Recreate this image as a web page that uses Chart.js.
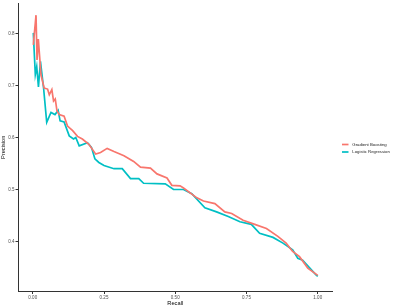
<!DOCTYPE html>
<html><head><meta charset="utf-8">
<script src="https://cdn.jsdelivr.net/npm/chart.js@4"></script>
<style>html,body{margin:0;padding:0;background:#fff;}#wrap{width:399px;height:308px;position:relative;}</style>
</head><body><div id="wrap"><canvas id="c" width="399" height="308"></canvas></div>
<script>
const seriesNames = ["Gradient Boosting", "Logistic Regression"];
const gbRecall = [0.002,0.0115,0.015,0.0195,0.029,0.040,0.052,0.058,0.067,0.073,0.079,0.085,0.093,0.110,0.122,0.140,0.157,0.174,0.197,0.221,0.238,0.261,0.285,0.320,0.354,0.378,0.413,0.436,0.471,0.488,0.517,0.529,0.576,0.599,0.639,0.674,0.698,0.738,0.779,0.820,0.860,0.889,0.912,0.936,0.965,1.000];
const gbPrecision = [0.778,0.835,0.749,0.789,0.720,0.695,0.693,0.682,0.692,0.670,0.674,0.651,0.644,0.641,0.622,0.613,0.602,0.597,0.587,0.568,0.571,0.579,0.573,0.565,0.554,0.543,0.541,0.530,0.522,0.508,0.507,0.503,0.484,0.478,0.473,0.457,0.454,0.441,0.433,0.425,0.410,0.397,0.381,0.371,0.349,0.335];
const lrRecall = [0.002,0.009,0.014,0.020,0.027,0.038,0.049,0.064,0.078,0.089,0.096,0.110,0.128,0.143,0.151,0.163,0.192,0.206,0.218,0.232,0.250,0.285,0.314,0.343,0.372,0.389,0.465,0.494,0.529,0.558,0.604,0.645,0.686,0.727,0.767,0.796,0.843,0.878,0.912,0.930,0.947,0.977,0.994,1.000];
const lrPrecision = [0.801,0.721,0.736,0.697,0.746,0.695,0.629,0.648,0.644,0.652,0.632,0.630,0.603,0.597,0.600,0.584,0.590,0.581,0.559,0.552,0.546,0.540,0.540,0.521,0.521,0.512,0.511,0.500,0.500,0.492,0.465,0.457,0.448,0.438,0.433,0.416,0.408,0.397,0.384,0.368,0.364,0.346,0.336,0.333];
const xTicks = [0, 0.25, 0.5, 0.75, 1.0];
const xTickLabels = ["0.00", "0.25", "0.50", "0.75", "1.00"];
const yTicks = [0.4, 0.5, 0.6, 0.7, 0.8];
const yTickLabels = ["0.4", "0.5", "0.6", "0.7", "0.8"];
const colors = ["#F8766D", "#00BFC4"];

const toPts = (xs, ys) => xs.map((x, i) => ({x: x, y: ys[i]}));
const FONT = "'Liberation Sans', Arial, sans-serif";

const legendPlugin = {
  id: 'ggLegend',
  afterDraw(chart) {
    const ctx = chart.ctx;
    ctx.save();
    chart.data.datasets.forEach((ds, i) => {
      const y = 144.5 + i * 7.5;
      ctx.strokeStyle = ds.borderColor;
      ctx.lineWidth = 1.7;
      ctx.beginPath(); ctx.moveTo(342, y); ctx.lineTo(348.5, y); ctx.stroke();
      ctx.fillStyle = '#1a1a1a';
      ctx.font = "4.3px " + FONT;
      ctx.textBaseline = 'middle';
      ctx.fillText(ds.label, 352.3, y);
    });
    ctx.restore();
  }
};

new Chart(document.getElementById('c'), {
  type: 'line',
  data: {
    datasets: [
      {label: seriesNames[0], data: toPts(gbRecall, gbPrecision), borderColor: colors[0], backgroundColor: colors[0], borderWidth: 1.7, pointRadius: 0, tension: 0, fill: false},
      {label: seriesNames[1], data: toPts(lrRecall, lrPrecision), borderColor: colors[1], backgroundColor: colors[1], borderWidth: 1.7, pointRadius: 0, tension: 0, fill: false}
    ]
  },
  options: {
    responsive: false, animation: false, devicePixelRatio: 1,
    layout: {padding: {left: 0, right: 67, top: 3, bottom: 0}},
    plugins: {legend: {display: false}, tooltip: {enabled: false}},
    scales: {
      x: {
        type: 'linear', min: -0.05, max: 1.05,
        afterBuildTicks: s => { s.ticks = xTicks.map(v => ({value: v})); },
        afterFit: s => { s.height = 17; },
        grid: {drawOnChartArea: false, drawTicks: true, tickLength: 3, color: '#333'},
        border: {display: true, color: '#333', width: 1},
        ticks: {color: '#4d4d4d', font: {size: 4.5, family: FONT}, padding: 1, maxRotation: 0,
                callback: (v) => xTickLabels[xTicks.indexOf(v)]},
        title: {display: true, text: 'Recall', color: '#000', font: {size: 5.7, family: FONT}, padding: {top: 0, bottom: 1}}
      },
      y: {
        type: 'linear', min: 0.305, max: 0.857,
        afterBuildTicks: s => { s.ticks = yTicks.map(v => ({value: v})); },
        afterFit: s => { s.width = 18.5; },
        grid: {drawOnChartArea: false, drawTicks: true, tickLength: 3, color: '#333'},
        border: {display: true, color: '#333', width: 1},
        ticks: {color: '#4d4d4d', font: {size: 4.5, family: FONT}, padding: 1,
                callback: (v) => yTickLabels[yTicks.indexOf(v)]},
        title: {display: true, text: 'Precision', color: '#000', font: {size: 5.7, family: FONT}, padding: {top: 0, bottom: 1}}
      }
    }
  },
  plugins: [legendPlugin]
});
</script></body></html>
